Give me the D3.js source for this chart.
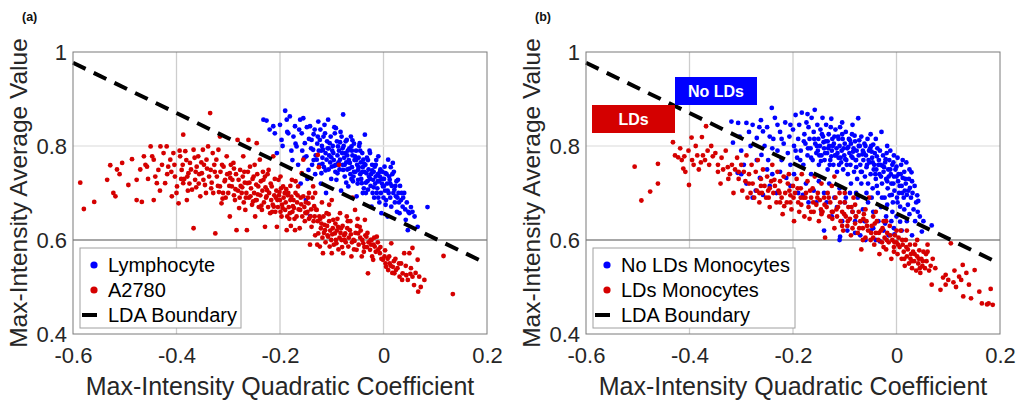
<!DOCTYPE html>
<html><head><meta charset="utf-8">
<script src="https://cdn.jsdelivr.net/npm/d3@7"></script>
<style>
html,body{margin:0;padding:0;background:#fff;}
svg{display:block;font-family:"Liberation Sans",Arial,sans-serif;}
</style></head>
<body><svg id="c" width="1019" height="402"></svg>
<script>
// ---------- data ----------
const xTicks = [-0.6, -0.4, -0.2, 0, 0.2];
const xTickLabels = ["-0.6", "-0.4", "-0.2", "0", "0.2"];
const yTicks = [0.4, 0.6, 0.8, 1];
const yTickLabels = ["0.4", "0.6", "0.8", "1"];
const xTitle = "Max-Intensity Quadratic Coefficient";
const yTitle = "Max-Intensity Average Value";
const ldaX = [-0.6, 0.184];
const ldaY = [0.977, 0.558];
const legendA = ["Lymphocyte", "A2780", "LDA Boundary"];
const legendB = ["No LDs Monocytes", "LDs Monocytes", "LDA Boundary"];
const annotB = ["No LDs", "LDs"];

const lymphocyte1 = [[-0.232,0.856],[-0.226,0.854],[-0.220,0.835],[-0.213,0.842],[-0.210,0.827],[-0.206,0.785],[-0.200,0.845],[-0.197,0.813],[-0.195,0.800],[-0.190,0.875],[-0.187,0.856],[-0.186,0.830],[-0.184,0.827],[-0.181,0.863],[-0.178,0.790],[-0.176,0.770],[-0.174,0.820],[-0.171,0.842],[-0.170,0.805],[-0.168,0.799],[-0.165,0.760],[-0.163,0.835],[-0.161,0.856],[-0.160,0.720],[-0.158,0.827],[-0.157,0.790],[-0.155,0.859],[-0.153,0.775],[-0.152,0.806],[-0.150,0.685],[-0.149,0.778],[-0.148,0.840],[-0.147,0.730],[-0.145,0.749],[-0.144,0.815],[-0.142,0.842],[-0.142,0.651],[-0.140,0.795],[-0.139,0.813],[-0.138,0.760],[-0.136,0.792],[-0.135,0.825],[-0.133,0.835],[-0.132,0.740],[-0.131,0.780],[-0.129,0.771],[-0.128,0.805],[-0.126,0.852],[-0.125,0.790],[-0.124,0.760],[-0.123,0.813],[-0.122,0.835],[-0.121,0.720],[-0.120,0.742],[-0.119,0.800],[-0.118,0.775],[-0.117,0.792],[-0.116,0.820],[-0.115,0.755],[-0.114,0.845],[-0.113,0.827],[-0.112,0.785],[-0.111,0.700],[-0.110,0.771],[-0.109,0.810],[-0.108,0.795],[-0.107,0.856],[-0.106,0.750],[-0.105,0.780],[-0.104,0.806],[-0.103,0.765],[-0.102,0.820],[-0.101,0.730],[-0.100,0.756],[-0.099,0.790],[-0.098,0.800],[-0.097,0.785],[-0.096,0.770],[-0.095,0.840],[-0.094,0.827],[-0.093,0.745],[-0.092,0.760],[-0.091,0.728],[-0.090,0.810],[-0.089,0.780],[-0.088,0.799],[-0.087,0.765],[-0.086,0.790],[-0.085,0.750],[-0.084,0.771],[-0.083,0.830],[-0.082,0.705],[-0.081,0.820],[-0.080,0.785],[-0.079,0.760],[-0.078,0.867],[-0.078,0.749],[-0.077,0.800],[-0.076,0.775],[-0.075,0.735],[-0.074,0.785],[-0.073,0.810],[-0.072,0.765],[-0.071,0.813],[-0.070,0.750],[-0.069,0.790],[-0.068,0.714],[-0.067,0.770],[-0.066,0.795],[-0.065,0.764],[-0.064,0.740],[-0.063,0.820],[-0.062,0.799],[-0.061,0.755],[-0.060,0.780],[-0.059,0.725],[-0.058,0.735],[-0.057,0.805],[-0.056,0.770],[-0.055,0.778],[-0.054,0.745],[-0.053,0.790],[-0.052,0.693],[-0.051,0.760],[-0.050,0.720],[-0.049,0.749],[-0.048,0.775],[-0.047,0.800],[-0.046,0.806],[-0.045,0.740],[-0.044,0.765],[-0.043,0.730],[-0.042,0.721],[-0.041,0.785],[-0.040,0.755],[-0.039,0.771],[-0.038,0.710],[-0.037,0.745],[-0.036,0.824],[-0.035,0.760],[-0.034,0.700],[-0.033,0.742],[-0.032,0.775],[-0.031,0.725],[-0.030,0.707],[-0.029,0.750],[-0.028,0.735],[-0.027,0.790],[-0.026,0.785],[-0.025,0.715],[-0.024,0.740],[-0.023,0.671],[-0.022,0.760],[-0.021,0.700],[-0.020,0.728],[-0.019,0.745],[-0.018,0.690],[-0.017,0.756],[-0.016,0.720],[-0.015,0.735],[-0.014,0.770],[-0.013,0.700],[-0.012,0.710],[-0.011,0.740],[-0.010,0.778],[-0.009,0.725],[-0.008,0.680],[-0.007,0.735],[-0.006,0.750],[-0.005,0.700],[-0.004,0.657],[-0.003,0.720],[-0.002,0.745],[-0.001,0.714],[0.000,0.690],[0.001,0.730],[0.002,0.756],[0.003,0.705],[0.004,0.675],[0.005,0.685],[0.006,0.740],[0.007,0.720],[0.008,0.650],[0.009,0.771],[0.010,0.700],[0.011,0.735],[0.012,0.728],[0.013,0.690],[0.014,0.755],[0.015,0.671],[0.016,0.715],[0.018,0.764],[0.019,0.700],[0.020,0.745],[0.021,0.707],[0.022,0.680],[0.024,0.693],[0.025,0.725],[0.026,0.660],[0.028,0.728],[0.029,0.700],[0.031,0.657],[0.032,0.715],[0.034,0.685],[0.035,0.700],[0.037,0.671],[0.038,0.690],[0.040,0.700],[0.042,0.665],[0.043,0.643],[0.045,0.680],[0.047,0.621],[0.048,0.660],[0.050,0.657],[0.053,0.670],[0.056,0.660],[0.060,0.650],[0.066,0.628],[0.085,0.670]];
const lymphocyte2 = [[-0.118,0.762],[-0.112,0.748],[-0.106,0.795],[-0.101,0.776],[-0.095,0.758],[-0.089,0.742],[-0.084,0.808],[-0.079,0.795],[-0.075,0.760],[-0.070,0.780],[-0.066,0.752],[-0.061,0.790],[-0.057,0.745],[-0.053,0.770],[-0.049,0.728],[-0.045,0.790],[-0.041,0.745],[-0.037,0.762],[-0.034,0.722],[-0.030,0.770],[-0.026,0.730],[-0.022,0.748],[-0.019,0.712],[-0.015,0.760],[-0.011,0.725],[-0.007,0.745],[-0.003,0.730],[0.001,0.715],[0.004,0.742],[0.008,0.705],[0.013,0.720],[0.017,0.740],[0.023,0.715],[0.027,0.690],[-0.135,0.770],[-0.127,0.820],[-0.120,0.790],[-0.090,0.760],[-0.062,0.730],[-0.040,0.700],[-0.010,0.690],[0.030,0.680],[-0.092,0.838],[-0.060,0.812],[-0.048,0.755],[-0.072,0.722]];

const a2780a = [[-0.586,0.722],[-0.579,0.666],[-0.559,0.681],[-0.534,0.728],[-0.528,0.759],[-0.522,0.700],[-0.518,0.693],[-0.515,0.750],[-0.510,0.740],[-0.505,0.764],[-0.493,0.717],[-0.486,0.772],[-0.477,0.728],[-0.477,0.685],[-0.470,0.750],[-0.467,0.681],[-0.463,0.778],[-0.460,0.760],[-0.457,0.756],[-0.450,0.799],[-0.447,0.778],[-0.444,0.771],[-0.444,0.685],[-0.441,0.735],[-0.438,0.721],[-0.435,0.749],[-0.431,0.799],[-0.428,0.760],[-0.425,0.785],[-0.422,0.721],[-0.419,0.799],[-0.416,0.756],[-0.412,0.771],[-0.410,0.745],[-0.409,0.693],[-0.406,0.785],[-0.403,0.735],[-0.400,0.700],[-0.399,0.714],[-0.396,0.678],[-0.394,0.790],[-0.393,0.778],[-0.390,0.749],[-0.388,0.760],[-0.387,0.824],[-0.387,0.721],[-0.385,0.730],[-0.383,0.789],[-0.380,0.685],[-0.378,0.705],[-0.377,0.742],[-0.375,0.720],[-0.374,0.764],[-0.372,0.750],[-0.370,0.707],[-0.367,0.625],[-0.367,0.792],[-0.365,0.775],[-0.364,0.728],[-0.362,0.712],[-0.361,0.756],[-0.358,0.778],[-0.356,0.740],[-0.354,0.693],[-0.351,0.742],[-0.349,0.792],[-0.347,0.760],[-0.345,0.717],[-0.343,0.700],[-0.342,0.771],[-0.339,0.799],[-0.337,0.735],[-0.335,0.870],[-0.334,0.749],[-0.332,0.722],[-0.330,0.785],[-0.329,0.700],[-0.327,0.760],[-0.325,0.614],[-0.323,0.771],[-0.322,0.735],[-0.320,0.715],[-0.319,0.792],[-0.316,0.820],[-0.316,0.714],[-0.315,0.745],[-0.313,0.678],[-0.312,0.760],[-0.310,0.700],[-0.309,0.756],[-0.307,0.725],[-0.306,0.728],[-0.305,0.690],[-0.303,0.778],[-0.302,0.740],[-0.300,0.700],[-0.298,0.715],[-0.297,0.650],[-0.297,0.742],[-0.295,0.760],[-0.293,0.714],[-0.292,0.728],[-0.290,0.764],[-0.289,0.695],[-0.287,0.685],[-0.285,0.740],[-0.284,0.621],[-0.282,0.813],[-0.281,0.705],[-0.280,0.728],[-0.278,0.690],[-0.277,0.749],[-0.276,0.715],[-0.274,0.700],[-0.272,0.735],[-0.271,0.778],[-0.270,0.680],[-0.268,0.722],[-0.267,0.664],[-0.265,0.700],[-0.264,0.621],[-0.263,0.721],[-0.262,0.745],[-0.261,0.813],[-0.260,0.690],[-0.258,0.756],[-0.257,0.693],[-0.256,0.710],[-0.254,0.675],[-0.253,0.730],[-0.251,0.735],[-0.250,0.700],[-0.248,0.650],[-0.247,0.685],[-0.246,0.718],[-0.245,0.806],[-0.245,0.685],[-0.244,0.740],[-0.242,0.714],[-0.241,0.670],[-0.239,0.771],[-0.238,0.695],[-0.237,0.725],[-0.235,0.664],[-0.234,0.705],[-0.232,0.728],[-0.231,0.680],[-0.229,0.628],[-0.228,0.712],[-0.227,0.690],[-0.226,0.693],[-0.224,0.740],[-0.223,0.670],[-0.222,0.749],[-0.221,0.700],[-0.219,0.657],[-0.218,0.720],[-0.217,0.685],[-0.216,0.714],[-0.214,0.675],[-0.213,0.778],[-0.212,0.671],[-0.211,0.695],[-0.210,0.730],[-0.209,0.660],[-0.207,0.705],[-0.206,0.628],[-0.205,0.685],[-0.204,0.670],[-0.203,0.728],[-0.202,0.695],[-0.200,0.685],[-0.199,0.660],[-0.198,0.710],[-0.197,0.650],[-0.196,0.675],[-0.194,0.714],[-0.193,0.690],[-0.191,0.700],[-0.190,0.664],[-0.189,0.680],[-0.187,0.621],[-0.186,0.650],[-0.185,0.695],[-0.184,0.700],[-0.183,0.670],[-0.181,0.657],[-0.180,0.685],[-0.179,0.630],[-0.177,0.728],[-0.176,0.660],[-0.175,0.672],[-0.174,0.685],[-0.172,0.645],[-0.171,0.621],[-0.170,0.700],[-0.168,0.650],[-0.167,0.680],[-0.165,0.714],[-0.164,0.665],[-0.162,0.625],[-0.161,0.664],[-0.160,0.690],[-0.158,0.742],[-0.157,0.650],[-0.155,0.693],[-0.155,0.771],[-0.153,0.670],[-0.152,0.640],[-0.150,0.680],[-0.149,0.657],[-0.147,0.660],[-0.145,0.678],[-0.144,0.645],[-0.142,0.590],[-0.140,0.665],[-0.139,0.628],[-0.137,0.690],[-0.136,0.714],[-0.135,0.640],[-0.133,0.650],[-0.132,0.610],[-0.131,0.665],[-0.129,0.664],[-0.128,0.590],[-0.127,0.640],[-0.127,0.781],[-0.126,0.614],[-0.125,0.755],[-0.124,0.650],[-0.123,0.586],[-0.121,0.625],[-0.120,0.635],[-0.118,0.605],[-0.117,0.572],[-0.116,0.650],[-0.115,0.615],[-0.113,0.621],[-0.112,0.595],[-0.110,0.657],[-0.109,0.630],[-0.108,0.610],[-0.107,0.607],[-0.105,0.640],[-0.104,0.586],[-0.103,0.620],[-0.101,0.600],[-0.100,0.572],[-0.100,0.685],[-0.098,0.625],[-0.097,0.643],[-0.096,0.590],[-0.094,0.614],[-0.093,0.635],[-0.092,0.600],[-0.091,0.593],[-0.090,0.620],[-0.088,0.628],[-0.087,0.580],[-0.086,0.760],[-0.085,0.605],[-0.084,0.657],[-0.083,0.615],[-0.081,0.600],[-0.080,0.585],[-0.079,0.630],[-0.078,0.572],[-0.076,0.610],[-0.074,0.614],[-0.073,0.595],[-0.071,0.650],[-0.070,0.625],[-0.068,0.586],[-0.067,0.605],[-0.065,0.621],[-0.064,0.640],[-0.062,0.565],[-0.061,0.595],[-0.060,0.690],[-0.058,0.600],[-0.057,0.580],[-0.055,0.664],[-0.054,0.615],[-0.052,0.579],[-0.051,0.630],[-0.049,0.614],[-0.048,0.590],[-0.046,0.628],[-0.045,0.605],[-0.042,0.565],[-0.041,0.600],[-0.039,0.593],[-0.038,0.575],[-0.036,0.643],[-0.035,0.610],[-0.033,0.607],[-0.032,0.585],[-0.030,0.529],[-0.029,0.595],[-0.026,0.579],[-0.025,0.600],[-0.023,0.600],[-0.022,0.565],[-0.020,0.558],[-0.019,0.590],[-0.017,0.586],[-0.015,0.575],[-0.013,0.607],[-0.010,0.580],[-0.007,0.572],[-0.004,0.560],[-0.001,0.558],[0.002,0.565],[0.004,0.550],[0.005,0.543],[0.008,0.560],[0.009,0.536],[0.012,0.550],[0.014,0.545],[0.015,0.593],[0.018,0.543],[0.020,0.555],[0.021,0.529],[0.024,0.536],[0.027,0.540],[0.031,0.522],[0.034,0.550],[0.037,0.529],[0.040,0.572],[0.044,0.525],[0.047,0.515],[0.050,0.572],[0.053,0.540],[0.056,0.522],[0.056,0.583],[0.059,0.504],[0.066,0.558],[0.067,0.490],[0.069,0.522],[0.079,0.515],[0.116,0.566],[0.134,0.485]];
const a2780b = [[-0.318,0.702],[-0.311,0.688],[-0.296,0.732],[-0.286,0.708],[-0.279,0.668],[-0.273,0.712],[-0.266,0.690],[-0.259,0.722],[-0.252,0.682],[-0.243,0.697],[-0.236,0.673],[-0.233,0.745],[-0.225,0.706],[-0.215,0.660],[-0.208,0.690],[-0.201,0.702],[-0.195,0.668],[-0.188,0.708],[-0.182,0.645],[-0.178,0.692],[-0.173,0.668],[-0.166,0.695],[-0.159,0.676],[-0.151,0.658],[-0.146,0.690],[-0.141,0.650],[-0.134,0.672],[-0.122,0.645],[-0.114,0.632],[-0.106,0.655],[-0.099,0.612],[-0.089,0.645],[-0.082,0.625],[-0.075,0.600],[-0.069,0.640],[-0.063,0.612],[-0.056,0.598],[-0.050,0.645],[-0.044,0.620],[-0.037,0.585],[-0.031,0.615],[-0.024,0.590],[-0.018,0.605],[-0.011,0.595],[-0.006,0.585],[0.003,0.578],[0.011,0.565],[0.017,0.530],[0.023,0.560],[0.030,0.550],[0.036,0.515],[0.043,0.545],[0.052,0.528],[0.062,0.530],[0.072,0.500],[-0.348,0.728],[-0.341,0.752],[-0.333,0.710],[-0.326,0.745],[-0.363,0.745],[-0.357,0.720],[-0.379,0.735],[-0.391,0.730],[-0.404,0.760],[-0.418,0.740],[-0.432,0.705],[-0.455,0.730],[-0.381,0.770],[-0.352,0.765],[-0.289,0.752],[-0.269,0.745],[-0.249,0.760],[-0.229,0.735],[-0.199,0.735],[-0.180,0.715],[-0.170,0.725],[-0.144,0.700],[-0.119,0.680],[-0.132,0.700],[-0.105,0.675]];

const noLDs1 = [[-0.319,0.852],[-0.306,0.849],[-0.290,0.849],[-0.278,0.845],[-0.303,0.820],[-0.316,0.807],[-0.300,0.790],[-0.285,0.830],[-0.270,0.817],[-0.258,0.831],[-0.262,0.855],[-0.250,0.840],[-0.241,0.881],[-0.245,0.820],[-0.235,0.860],[-0.230,0.845],[-0.261,0.781],[-0.255,0.800],[-0.248,0.770],[-0.240,0.795],[-0.238,0.815],[-0.230,0.790],[-0.225,0.830],[-0.222,0.770],[-0.218,0.805],[-0.215,0.850],[-0.210,0.785],[-0.207,0.820],[-0.205,0.760],[-0.200,0.835],[-0.198,0.800],[-0.195,0.866],[-0.192,0.775],[-0.190,0.815],[-0.188,0.845],[-0.185,0.790],[-0.183,0.871],[-0.180,0.760],[-0.178,0.825],[-0.176,0.805],[-0.174,0.850],[-0.172,0.780],[-0.170,0.840],[-0.168,0.815],[-0.166,0.795],[-0.164,0.860],[-0.162,0.770],[-0.160,0.830],[-0.158,0.877],[-0.157,0.805],[-0.155,0.785],[-0.153,0.845],[-0.151,0.815],[-0.150,0.760],[-0.148,0.800],[-0.147,0.835],[-0.145,0.780],[-0.143,0.860],[-0.142,0.820],[-0.140,0.795],[-0.139,0.770],[-0.137,0.810],[-0.136,0.845],[-0.134,0.785],[-0.133,0.750],[-0.131,0.825],[-0.130,0.800],[-0.128,0.770],[-0.127,0.840],[-0.125,0.790],[-0.124,0.815],[-0.122,0.760],[-0.121,0.805],[-0.119,0.780],[-0.118,0.835],[-0.116,0.795],[-0.115,0.745],[-0.113,0.820],[-0.112,0.775],[-0.110,0.800],[-0.109,0.840],[-0.107,0.765],[-0.106,0.790],[-0.104,0.815],[-0.103,0.750],[-0.101,0.780],[-0.100,0.805],[-0.098,0.830],[-0.097,0.770],[-0.095,0.795],[-0.094,0.740],[-0.092,0.815],[-0.091,0.785],[-0.089,0.760],[-0.088,0.805],[-0.086,0.825],[-0.085,0.775],[-0.083,0.795],[-0.082,0.745],[-0.080,0.810],[-0.079,0.770],[-0.077,0.790],[-0.076,0.730],[-0.074,0.859],[-0.073,0.780],[-0.071,0.800],[-0.070,0.760],[-0.068,0.820],[-0.067,0.745],[-0.065,0.790],[-0.064,0.770],[-0.062,0.805],[-0.061,0.735],[-0.059,0.780],[-0.058,0.755],[-0.056,0.815],[-0.055,0.720],[-0.053,0.790],[-0.052,0.765],[-0.050,0.740],[-0.049,0.800],[-0.047,0.775],[-0.046,0.710],[-0.045,0.803],[-0.043,0.760],[-0.042,0.785],[-0.040,0.730],[-0.039,0.750],[-0.037,0.795],[-0.036,0.700],[-0.034,0.770],[-0.033,0.740],[-0.031,0.760],[-0.029,0.830],[-0.028,0.720],[-0.026,0.780],[-0.025,0.745],[-0.023,0.690],[-0.022,0.765],[-0.020,0.730],[-0.019,0.785],[-0.017,0.710],[-0.016,0.750],[-0.014,0.770],[-0.013,0.695],[-0.011,0.740],[-0.010,0.720],[-0.008,0.760],[-0.007,0.680],[-0.005,0.735],[-0.004,0.705],[-0.002,0.750],[0.000,0.756],[0.001,0.690],[0.003,0.725],[0.005,0.700],[0.007,0.671],[0.008,0.740],[0.010,0.715],[0.012,0.732],[0.014,0.690],[0.016,0.705],[0.018,0.720],[0.020,0.696],[0.022,0.675],[0.024,0.730],[0.026,0.711],[0.028,0.690],[0.029,0.744],[0.031,0.700],[0.033,0.665],[0.035,0.715],[0.038,0.680],[0.040,0.695],[0.042,0.683],[0.041,0.660],[0.045,0.650],[0.049,0.618],[0.052,0.640],[0.068,0.631],[0.007,0.639],[-0.009,0.696],[-0.032,0.597],[-0.109,0.607],[-0.300,0.740],[-0.295,0.760],[-0.307,0.743],[-0.290,0.720],[-0.278,0.690],[-0.272,0.705],[-0.264,0.732],[-0.258,0.696],[-0.250,0.750],[-0.245,0.715],[-0.240,0.740],[-0.232,0.700],[-0.225,0.745],[-0.213,0.732],[-0.205,0.715],[-0.198,0.740],[-0.190,0.700],[-0.181,0.696],[-0.175,0.720],[-0.170,0.680],[-0.165,0.740],[-0.160,0.705],[-0.155,0.680],[-0.150,0.725],[-0.145,0.660],[-0.140,0.700],[-0.135,0.680],[-0.130,0.720],[-0.125,0.650],[-0.120,0.690],[-0.115,0.670],[-0.110,0.710],[-0.105,0.640],[-0.100,0.680],[-0.095,0.620],[-0.090,0.700],[-0.085,0.660],[-0.080,0.640],[-0.075,0.690],[-0.070,0.610],[-0.065,0.665],[-0.060,0.640],[-0.055,0.680],[-0.050,0.620],[-0.045,0.660],[-0.040,0.600],[-0.035,0.640],[-0.030,0.670],[-0.025,0.620],[-0.020,0.650],[-0.015,0.610],[-0.010,0.640],[-0.005,0.625],[0.000,0.650],[0.010,0.620],[0.020,0.640],[0.030,0.610],[-0.140,0.620],[-0.110,0.600]];
const noLDs2 = [[-0.152,0.790],[-0.146,0.768],[-0.141,0.808],[-0.132,0.795],[-0.126,0.778],[-0.120,0.820],[-0.114,0.785],[-0.111,0.760],[-0.105,0.825],[-0.099,0.772],[-0.093,0.798],[-0.087,0.778],[-0.081,0.822],[-0.078,0.755],[-0.072,0.812],[-0.066,0.782],[-0.060,0.800],[-0.054,0.770],[-0.048,0.788],[-0.044,0.750],[-0.038,0.778],[-0.032,0.790],[-0.027,0.758],[-0.021,0.772],[-0.015,0.735],[-0.012,0.790],[-0.006,0.765],[0.002,0.775],[0.004,0.740],[0.009,0.760],[0.015,0.745],[0.019,0.765],[0.025,0.750],[-0.195,0.790],[-0.186,0.770],[-0.179,0.810],[-0.171,0.795],[-0.165,0.775],[-0.159,0.815],[-0.154,0.800],[-0.149,0.780],[-0.144,0.825],[-0.138,0.785],[-0.133,0.810],[-0.129,0.760],[-0.123,0.800],[-0.117,0.780],[-0.112,0.815],[-0.108,0.775],[-0.102,0.795],[-0.096,0.760],[-0.090,0.812],[-0.084,0.788],[-0.078,0.770],[-0.073,0.800],[-0.069,0.745],[-0.063,0.785],[-0.057,0.760],[-0.051,0.795],[-0.046,0.765],[-0.041,0.740],[-0.035,0.760],[-0.030,0.735],[-0.024,0.755],[-0.018,0.725],[-0.012,0.750],[-0.006,0.720],[0.000,0.735],[0.006,0.715],[0.011,0.700],[0.017,0.730],[0.023,0.705],[0.030,0.725],[-0.098,0.690],[-0.088,0.720],[-0.078,0.700],[-0.068,0.720],[-0.058,0.700],[-0.048,0.690],[-0.038,0.715],[-0.028,0.690],[-0.018,0.675],[-0.008,0.660],[0.002,0.680],[0.015,0.665],[0.025,0.655],[0.036,0.640],[-0.062,0.640],[-0.045,0.625],[-0.022,0.635],[-0.004,0.612],[-0.080,0.615],[-0.060,0.600],[-0.270,0.770],[-0.282,0.800],[-0.265,0.840],[-0.222,0.815],[-0.205,0.845],[-0.172,0.868],[-0.126,0.858],[-0.105,0.850],[-0.085,0.845],[-0.050,0.825],[-0.040,0.815],[-0.018,0.800],[-0.005,0.780],[0.012,0.770]];

const withLDs1 = [[-0.506,0.756],[-0.493,0.684],[-0.476,0.703],[-0.461,0.720],[-0.461,0.762],[-0.432,0.808],[-0.428,0.780],[-0.422,0.776],[-0.418,0.795],[-0.415,0.770],[-0.412,0.752],[-0.410,0.778],[-0.408,0.745],[-0.402,0.790],[-0.401,0.717],[-0.396,0.818],[-0.395,0.770],[-0.392,0.760],[-0.388,0.800],[-0.385,0.780],[-0.382,0.750],[-0.378,0.765],[-0.376,0.819],[-0.374,0.780],[-0.370,0.770],[-0.368,0.842],[-0.365,0.790],[-0.362,0.760],[-0.358,0.800],[-0.355,0.778],[-0.350,0.785],[-0.345,0.760],[-0.340,0.720],[-0.338,0.775],[-0.335,0.750],[-0.330,0.790],[-0.326,0.755],[-0.322,0.740],[-0.318,0.760],[-0.315,0.700],[-0.312,0.750],[-0.308,0.775],[-0.305,0.730],[-0.300,0.760],[-0.298,0.705],[-0.295,0.745],[-0.292,0.725],[-0.290,0.780],[-0.288,0.690],[-0.285,0.740],[-0.282,0.700],[-0.280,0.760],[-0.278,0.720],[-0.275,0.690],[-0.272,0.745],[-0.270,0.705],[-0.268,0.770],[-0.265,0.680],[-0.262,0.730],[-0.260,0.700],[-0.258,0.750],[-0.255,0.715],[-0.252,0.690],[-0.250,0.735],[-0.248,0.705],[-0.245,0.670],[-0.242,0.725],[-0.240,0.760],[-0.238,0.700],[-0.235,0.715],[-0.232,0.680],[-0.230,0.745],[-0.228,0.705],[-0.225,0.725],[-0.222,0.690],[-0.220,0.655],[-0.218,0.735],[-0.215,0.700],[-0.212,0.680],[-0.210,0.720],[-0.208,0.740],[-0.205,0.695],[-0.203,0.665],[-0.200,0.715],[-0.198,0.640],[-0.196,0.700],[-0.193,0.730],[-0.190,0.680],[-0.188,0.660],[-0.185,0.710],[-0.183,0.740],[-0.180,0.690],[-0.178,0.650],[-0.175,0.700],[-0.172,0.725],[-0.170,0.670],[-0.168,0.645],[-0.165,0.690],[-0.162,0.710],[-0.160,0.660],[-0.158,0.735],[-0.155,0.675],[-0.152,0.700],[-0.150,0.640],[-0.148,0.685],[-0.145,0.720],[-0.143,0.660],[-0.140,0.690],[-0.138,0.605],[-0.135,0.670],[-0.133,0.700],[-0.130,0.650],[-0.128,0.680],[-0.125,0.715],[-0.123,0.660],[-0.120,0.625],[-0.118,0.690],[-0.115,0.650],[-0.113,0.670],[-0.110,0.700],[-0.108,0.640],[-0.105,0.660],[-0.103,0.620],[-0.100,0.680],[-0.098,0.650],[-0.095,0.630],[-0.093,0.670],[-0.090,0.645],[-0.088,0.610],[-0.085,0.660],[-0.083,0.690],[-0.080,0.635],[-0.078,0.650],[-0.075,0.615],[-0.073,0.660],[-0.070,0.640],[-0.068,0.580],[-0.065,0.625],[-0.063,0.655],[-0.060,0.605],[-0.058,0.640],[-0.055,0.620],[-0.053,0.690],[-0.050,0.600],[-0.048,0.630],[-0.045,0.650],[-0.043,0.590],[-0.040,0.615],[-0.038,0.640],[-0.035,0.600],[-0.033,0.570],[-0.030,0.620],[-0.028,0.595],[-0.025,0.640],[-0.023,0.605],[-0.020,0.580],[-0.018,0.615],[-0.015,0.595],[-0.013,0.630],[-0.010,0.560],[-0.008,0.600],[-0.005,0.585],[-0.003,0.610],[0.000,0.595],[0.002,0.570],[0.004,0.605],[0.006,0.585],[0.008,0.620],[0.010,0.560],[0.012,0.590],[0.014,0.575],[0.016,0.545],[0.018,0.600],[0.020,0.565],[0.022,0.580],[0.024,0.550],[0.026,0.590],[0.028,0.570],[0.030,0.540],[0.032,0.575],[0.034,0.555],[0.036,0.590],[0.038,0.535],[0.040,0.565],[0.042,0.550],[0.044,0.578],[0.046,0.530],[0.048,0.560],[0.050,0.545],[0.052,0.575],[0.055,0.540],[0.058,0.555],[0.060,0.590],[0.063,0.535],[0.066,0.545],[0.068,0.505],[0.070,0.560],[0.085,0.494],[0.090,0.520],[0.095,0.526],[0.100,0.515],[0.105,0.593],[0.110,0.510],[0.115,0.500],[0.121,0.522],[0.125,0.515],[0.128,0.547],[0.129,0.480],[0.135,0.530],[0.144,0.476],[0.151,0.536],[0.165,0.465],[0.175,0.463],[0.182,0.496],[0.186,0.462]];
const withLDs2 = [[-0.262,0.715],[-0.247,0.690],[-0.236,0.728],[-0.226,0.700],[-0.217,0.672],[-0.207,0.705],[-0.199,0.690],[-0.191,0.710],[-0.184,0.675],[-0.176,0.690],[-0.167,0.705],[-0.161,0.680],[-0.153,0.690],[-0.146,0.665],[-0.139,0.675],[-0.131,0.690],[-0.124,0.645],[-0.116,0.665],[-0.109,0.680],[-0.101,0.655],[-0.094,0.640],[-0.087,0.670],[-0.079,0.650],[-0.072,0.625],[-0.064,0.645],[-0.057,0.630],[-0.049,0.615],[-0.042,0.635],[-0.034,0.615],[-0.027,0.625],[-0.019,0.600],[-0.012,0.610],[-0.004,0.595],[0.003,0.590],[0.011,0.600],[0.019,0.585],[0.027,0.560],[0.035,0.570],[0.043,0.560],[0.051,0.555],[0.057,0.570],[0.045,0.540],[0.030,0.555],[0.015,0.560],[-0.005,0.575],[-0.025,0.585],[-0.045,0.605],[-0.065,0.600],[-0.085,0.625],[-0.105,0.630],[-0.125,0.660],[-0.145,0.655],[-0.165,0.660],[-0.185,0.690],[-0.205,0.680],[-0.225,0.680],[-0.245,0.710],[-0.265,0.700],[-0.285,0.720],[-0.305,0.745],[-0.325,0.730],[-0.345,0.745],[-0.120,0.735],[-0.100,0.700],[-0.080,0.675],[-0.060,0.665],[-0.040,0.660],[-0.020,0.640],[0.000,0.620],[0.020,0.620],[0.040,0.600],[0.060,0.575],[0.075,0.540],[0.095,0.505],[0.112,0.535],[0.140,0.505],[0.160,0.490],[0.178,0.465]];

// ---------- drawing ----------
const BLUE = "#0000ff", RED = "#d50000", TXT = "#262626";
const svg = d3.select("#c");

function panel(opts) {
  const g = svg.append("g");
  const x = d3.scaleLinear().domain([-0.6, 0.2]).range([opts.left, opts.left + 414]);
  const y = d3.scaleLinear().domain([0.4, 1]).range([334, 52]);

  g.selectAll(".gx").data(xTicks.slice(1, -1)).join("line")
    .attr("x1", d => x(d)).attr("x2", d => x(d)).attr("y1", y(1)).attr("y2", y(0.4))
    .attr("stroke", "#cdcdcd").attr("stroke-width", 1.3);
  g.selectAll(".gy").data(yTicks.slice(1, -1)).join("line")
    .attr("x1", x(-0.6)).attr("x2", x(0.2)).attr("y1", d => y(d)).attr("y2", d => y(d))
    .attr("stroke", d => d === 0.6 ? "#8a8a8a" : "#e6e6e6").attr("stroke-width", 1.3);

  g.append("g").selectAll("circle").data(opts.blue).join("circle")
    .attr("cx", d => x(d[0])).attr("cy", d => y(d[1])).attr("r", 2.4).attr("fill", BLUE);
  g.append("g").selectAll("circle").data(opts.red).join("circle")
    .attr("cx", d => x(d[0])).attr("cy", d => y(d[1])).attr("r", 2.4).attr("fill", RED);

  g.append("line")
    .attr("x1", x(ldaX[0])).attr("y1", y(ldaY[0])).attr("x2", x(ldaX[1])).attr("y2", y(ldaY[1]))
    .attr("stroke", "#000").attr("stroke-width", 4).attr("stroke-dasharray", "14,9");

  g.append("rect").attr("x", x(-0.6)).attr("y", y(1)).attr("width", x(0.2) - x(-0.6)).attr("height", y(0.4) - y(1))
    .attr("fill", "none").attr("stroke", "#7a7a7a").attr("stroke-width", 1);

  const ax = g.append("g").attr("transform", `translate(0,${y(0.4)})`)
    .call(d3.axisBottom(x).tickValues(xTicks).tickFormat((d, i) => xTickLabels[i]).tickSize(0));
  ax.select(".domain").remove();
  ax.selectAll("text").attr("y", 29).attr("dy", null).attr("font-size", 22).attr("fill", TXT)
    .attr("font-family", '"Liberation Sans",Arial,sans-serif');
  const ay = g.append("g").attr("transform", `translate(${x(-0.6)},0)`)
    .call(d3.axisLeft(y).tickValues(yTicks).tickFormat((d, i) => yTickLabels[i]).tickSize(0).tickPadding(6));
  ay.select(".domain").remove();
  ay.selectAll("text").attr("dy", "0.36em").attr("font-size", 22).attr("fill", TXT)
    .attr("font-family", '"Liberation Sans",Arial,sans-serif');

  g.append("text").attr("x", (x(-0.6) + x(0.2)) / 2).attr("y", 395).attr("text-anchor", "middle")
    .attr("font-size", 25).attr("fill", TXT).text(xTitle);
  g.append("text").attr("transform", `translate(${opts.left - 46},${(y(1) + y(0.4)) / 2}) rotate(-90)`)
    .attr("text-anchor", "middle").attr("font-size", 24.5).attr("fill", TXT).text(yTitle);
  g.append("text").attr("x", opts.left - 51).attr("y", 21).attr("font-size", 12.5).attr("font-weight", "bold")
    .attr("fill", "#111").text(opts.tag);

  const lg = g.append("g");
  lg.append("rect").attr("x", opts.left + 7).attr("y", 248).attr("width", opts.legW).attr("height", 80)
    .attr("fill", "#fff").attr("stroke", "#a0a0a0").attr("stroke-width", 1);
  const rows = [265, 290, 315];
  const mx = opts.left + 21;
  lg.append("circle").attr("cx", mx).attr("cy", rows[0]).attr("r", 3.6).attr("fill", BLUE);
  lg.append("circle").attr("cx", mx).attr("cy", rows[1]).attr("r", 3.6).attr("fill", RED);
  lg.append("line").attr("x1", mx - 12).attr("x2", mx + 3).attr("y1", rows[2]).attr("y2", rows[2])
    .attr("stroke", "#000").attr("stroke-width", 4);
  lg.selectAll("text.l").data(opts.legend).join("text")
    .attr("x", mx + 14).attr("y", (d, i) => rows[i]).attr("dy", "0.36em")
    .attr("font-size", 20).attr("fill", "#000").text(d => d);
  return {x, y, g};
}

panel({left: 73, blue: lymphocyte1.concat(lymphocyte2), red: a2780a.concat(a2780b), legend: legendA, legW: 161, tag: "(a)"});
const pb = panel({left: 586, blue: noLDs1.concat(noLDs2), red: withLDs1.concat(withLDs2), legend: legendB, legW: 202, tag: "(b)"});

const ann = pb.g.append("g");
ann.append("rect").attr("x", 675).attr("y", 77).attr("width", 82).attr("height", 28).attr("fill", BLUE);
ann.append("text").attr("x", 716).attr("y", 91).attr("dy", "0.36em").attr("text-anchor", "middle")
  .attr("fill", "#fff").attr("font-weight", "bold").attr("font-size", 16).text(annotB[0]);
ann.append("rect").attr("x", 592).attr("y", 105).attr("width", 83).attr("height", 28).attr("fill", "#d40000");
ann.append("text").attr("x", 633.5).attr("y", 119).attr("dy", "0.36em").attr("text-anchor", "middle")
  .attr("fill", "#fff").attr("font-weight", "bold").attr("font-size", 16).text(annotB[1]);
</script></body></html>
